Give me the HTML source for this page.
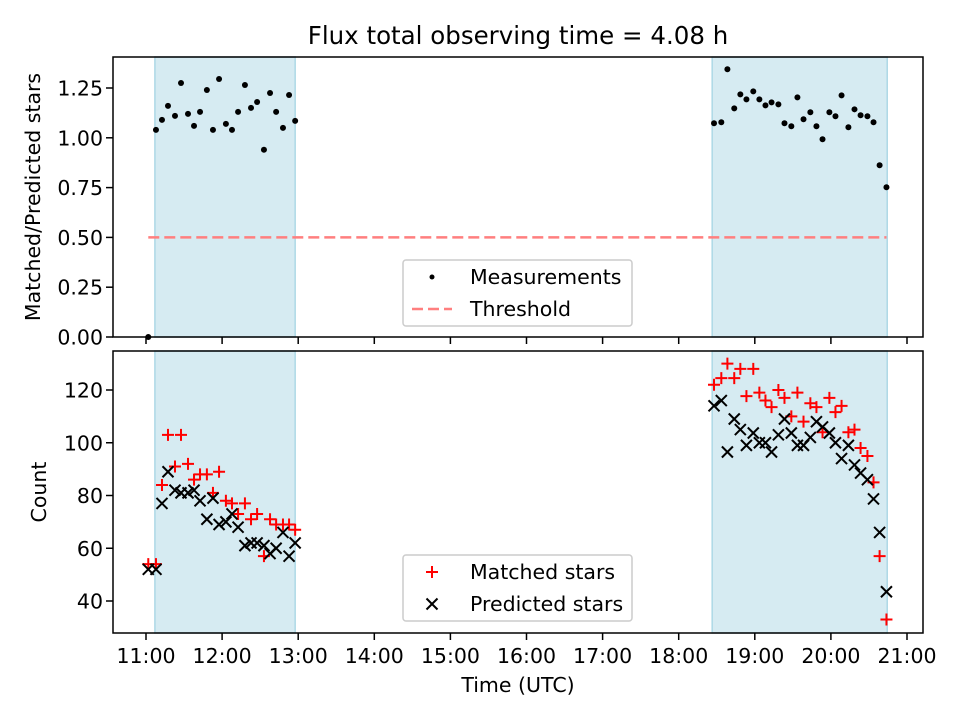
<!DOCTYPE html>
<html><head><meta charset="utf-8"><style>
body{margin:0;background:#fff}
svg text{font-family:"DejaVu Sans","Liberation Sans",sans-serif;fill:#000}
</style></head><body>
<svg id="c" width="960" height="720" xmlns="http://www.w3.org/2000/svg"></svg>
<script>
const topTimes=[11.03,11.131,11.21,11.289,11.381,11.46,11.552,11.631,11.71,11.80,11.88,11.96,12.05,12.13,12.21,12.30,12.38,12.46,12.55,12.63,12.71,12.80,12.88,12.96,
18.464,18.56,18.64,18.73,18.81,18.89,18.98,19.06,19.14,19.22,19.31,19.39,19.48,19.56,19.64,19.73,19.81,19.89,19.98,20.06,20.14,20.23,20.31,20.39,20.48,20.56,20.64,20.73];
const ratioValues=[0,1.04,1.09,1.16,1.11,1.275,1.12,1.06,1.13,1.24,1.04,1.295,1.07,1.04,1.13,1.265,1.15,1.18,0.94,1.225,1.13,1.05,1.215,1.085,
1.073,1.078,1.344,1.148,1.218,1.193,1.233,1.193,1.163,1.178,1.168,1.073,1.058,1.203,1.093,1.128,1.058,0.993,1.128,1.108,1.213,1.053,1.143,1.113,1.108,1.078,0.862,0.752];
const matchedValues=[54,54,84,103,91,103,92,86,88,88,81,89,78,77,73,77,71,73,57,71,69,69,69,67,
122,124.5,130,124.5,128,117.7,128,119,116,113.5,120,117,110,119,108,115,113.5,104,117,111.6,114,104,105,98,95,85,57,33];
const predictedValues=[52,52,77,89,82,81,81,82,78,71,79,69,70,73,68,61,62,62,61,58,60,66,57,62,
114,116,96.5,109,105,99,103.7,100,100,96.5,103,109,103.7,99,99,102,108,106,103.7,100,94,99,91.6,88.5,86,78.7,66,43.5];
const xTickLabels=["11:00","12:00","13:00","14:00","15:00","16:00","17:00","18:00","19:00","20:00","21:00"];
const xTickHours=[11,12,13,14,15,16,17,18,19,20,21];
const topYTicks=[0,0.25,0.5,0.75,1.0,1.25];
const botYTicks=[40,60,80,100,120];
const shadeSpans=[[11.117,12.96],[18.44,20.74]];
const threshold=0.5, thresholdSpan=[11.03,20.73];

const svg=document.getElementById('c');const NS='http://www.w3.org/2000/svg';
function el(t,a,p){const e=document.createElementNS(NS,t);for(const k in a)e.setAttribute(k,a[k]);(p||svg).appendChild(e);return e;}
const L=113,R=923,T1=57,B1=337,T2=351,B2=633;
const x=h=>146+(h-11)*76.1;
const y1=v=>337-v*199.2;
const y2=v=>390-(v-120)*2.6375;
const FS=20.5;

const title=el('text',{x:518,y:44,'text-anchor':'middle','font-size':24.5});title.textContent='Flux total observing time = 4.08 h';


function panel(T,B,name){
  const g=el('g',{});
  shadeSpans.forEach(s=>{const r=el('rect',{x:x(s[0]),y:T,width:x(s[1])-x(s[0]),height:B-T,fill:'#add8e6','fill-opacity':0.5,stroke:'#add8e6','stroke-width':1.5},g);
    });
  return g;
}
const gt=panel(T1,B1,'ratio-panel');
const th=el('line',{x1:x(thresholdSpan[0]),x2:x(thresholdSpan[1]),y1:y1(threshold),y2:y1(threshold),stroke:'#ff7f7f','stroke-width':2.5,'stroke-dasharray':'11,5'},gt);

topTimes.forEach((t,i)=>{const c=el('circle',{cx:x(t),cy:y1(ratioValues[i]),r:3,fill:'#000'},gt);
  });
const gb=panel(T2,B2,'count-panel');
topTimes.forEach((t,i)=>{const cx=x(t),cy=y2(matchedValues[i]);
  const p=el('path',{d:`M${cx-6} ${cy}H${cx+6}M${cx} ${cy-6}V${cy+6}`,stroke:'#f00','stroke-width':2},gb);
  });
topTimes.forEach((t,i)=>{const cx=x(t),cy=y2(predictedValues[i]),d=5.5;
  const p=el('path',{d:`M${cx-d} ${cy-d}L${cx+d} ${cy+d}M${cx-d} ${cy+d}L${cx+d} ${cy-d}`,stroke:'#000','stroke-width':2},gb);
  });

[[T1,B1],[T2,B2]].forEach(([T,B],k)=>{
  const f=el('rect',{x:L,y:T,width:R-L,height:B-T,fill:'none',stroke:'#000','stroke-width':1.5});
  
  xTickHours.forEach((h,i)=>{el('line',{x1:x(h),x2:x(h),y1:B,y2:B+7,stroke:'#000','stroke-width':1.5});
    if(k){const tx=el('text',{x:x(h),y:B+30,'text-anchor':'middle','font-size':FS});tx.textContent=xTickLabels[i];
      }});
});
topYTicks.forEach(v=>{el('line',{x1:L-7,x2:L,y1:y1(v),y2:y1(v),stroke:'#000','stroke-width':1.5});
  const t=el('text',{x:L-10,y:y1(v)+7.5,'text-anchor':'end','font-size':FS});t.textContent=v.toFixed(2);
  });
botYTicks.forEach(v=>{el('line',{x1:L-7,x2:L,y1:y2(v),y2:y2(v),stroke:'#000','stroke-width':1.5});
  const t=el('text',{x:L-10,y:y2(v)+7.5,'text-anchor':'end','font-size':FS});t.textContent=v;
  });
let t=el('text',{x:40,y:197,'text-anchor':'middle','font-size':FS,transform:'rotate(-90 40 197)'});t.textContent='Matched/Predicted stars';

t=el('text',{x:46,y:492,'text-anchor':'middle','font-size':FS,transform:'rotate(-90 46 492)'});t.textContent='Count';

t=el('text',{x:518,y:692,'text-anchor':'middle','font-size':FS});t.textContent='Time (UTC)';


function legend(y0,name,items){
  const g=el('g',{});
  el('rect',{x:403,y:y0,width:229,height:66,rx:3,fill:'#fff','fill-opacity':0.8,stroke:'#ccc','stroke-width':1.5},g);
  items.forEach((it,i)=>{const cy=y0+17+i*32;it[0](g,432,cy);
    const tx=el('text',{x:470,y:cy+7,'font-size':FS},g);tx.textContent=it[1];
    });
}
legend(260,'ratio-legend',[[(g,cx,cy)=>el('circle',{cx:cx,cy:cy,r:2.5,fill:'#000'},g),'Measurements'],
  [(g,cx,cy)=>el('line',{x1:cx-20,x2:cx+20,y1:cy,y2:cy,stroke:'#ff7f7f','stroke-width':2.5,'stroke-dasharray':'11,5'},g),'Threshold']]);
legend(555,'count-legend',[[(g,cx,cy)=>el('path',{d:`M${cx-6} ${cy}H${cx+6}M${cx} ${cy-6}V${cy+6}`,stroke:'#f00','stroke-width':2},g),'Matched stars'],
  [(g,cx,cy)=>el('path',{d:`M${cx-5.5} ${cy-5.5}L${cx+5.5} ${cy+5.5}M${cx-5.5} ${cy+5.5}L${cx+5.5} ${cy-5.5}`,stroke:'#000','stroke-width':2},g),'Predicted stars']]);
</script>
</body></html>
